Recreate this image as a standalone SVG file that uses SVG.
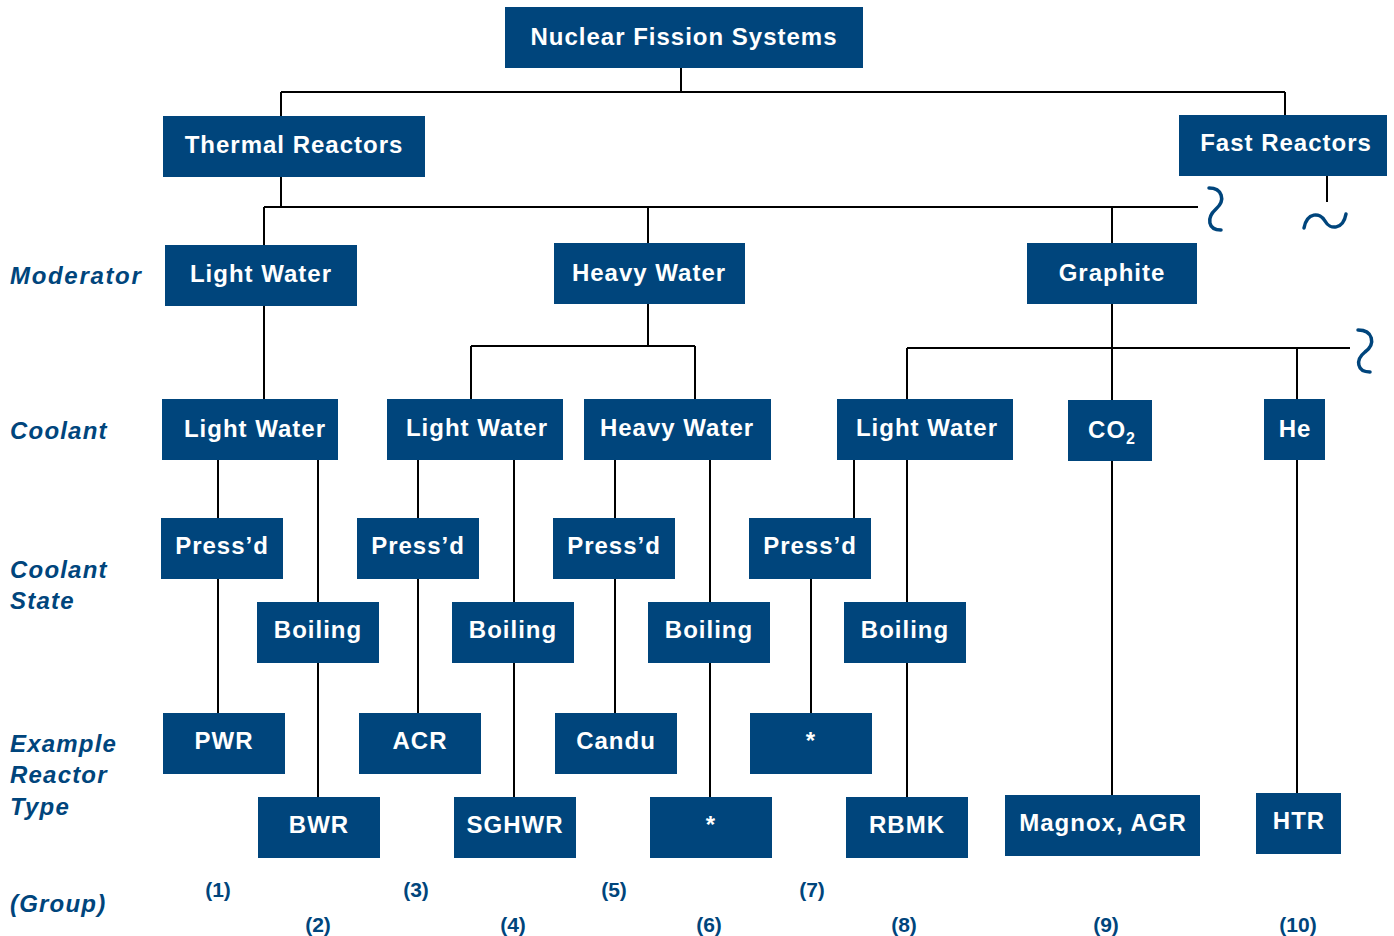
<svg xmlns="http://www.w3.org/2000/svg" width="1394" height="936" viewBox="0 0 1394 936">
<style>
.b{fill:#00457c}
.t{font-family:"Liberation Sans",Arial,sans-serif;font-weight:bold;font-size:24px;fill:#fff;text-anchor:middle;letter-spacing:1px}
.l{font-family:"Liberation Sans",Arial,sans-serif;font-weight:bold;font-style:italic;font-size:24px;fill:#00457c;letter-spacing:1.2px}
.g{font-family:"Liberation Sans",Arial,sans-serif;font-weight:bold;font-size:21px;fill:#00457c;text-anchor:middle}
.c{stroke:#000;stroke-width:2;fill:none}
.w{stroke:#00457c;stroke-width:3.5;fill:none;stroke-linecap:round}
</style>
<rect width="1394" height="936" fill="#fff"/>
<g id="connectors">
<path class="c" d="M681,68V92M281,92H1285M281,92V116M1285,92V115"/>
<path class="c" d="M281,177V207M264,207H1198M264,207V245M648,207V243M1112,207V243"/>
<path class="c" d="M1327,176V202"/>
<path class="c" d="M264,306V399"/>
<path class="c" d="M648,304V346M471,346H695M471,346V399M695,346V399"/>
<path class="c" d="M1112,304V400M907,348H1350M907,348V399M1297,348V399"/>
<path class="c" d="M218,460V518M318,460V602M218,579V713M318,663V797"/>
<path class="c" d="M418,460V518M514,460V602M418,579V713M514,663V797"/>
<path class="c" d="M615,460V518M710,460V602M615,579V713M710,663V797"/>
<path class="c" d="M854,460V518M907,460V602M811,579V713M907,663V797"/>
<path class="c" d="M1112,461V795M1297,460V793"/>
<path class="w" d="M1209,188C1222,188 1226,200 1216,209C1206,218 1208,230 1221,230"/>
<path class="w" d="M1304,228C1307,212 1320,212 1325,221C1330,230 1343,230 1346,214"/>
<path class="w" d="M1358,330C1373,330 1376,344 1365,352C1355,360 1357,372 1370,372"/>
</g>
<g id="n-root"><rect class="b" x="505" y="7" width="358" height="61"/><text class="t" x="684" y="45">Nuclear  Fission Systems</text></g>
<g id="n-thermal"><rect class="b" x="163" y="116" width="262" height="61"/><text class="t" x="294" y="153">Thermal Reactors</text></g>
<g id="n-fast"><rect class="b" x="1179" y="115" width="208" height="61"/><text class="t" x="1286" y="151">Fast Reactors</text></g>
<g id="n-mod-lw"><rect class="b" x="165" y="245" width="192" height="61"/><text class="t" x="261" y="282">Light Water</text></g>
<g id="n-mod-hw"><rect class="b" x="554" y="243" width="191" height="61"/><text class="t" x="649" y="281">Heavy Water</text></g>
<g id="n-mod-gr"><rect class="b" x="1027" y="243" width="170" height="61"/><text class="t" x="1112" y="281">Graphite</text></g>
<g id="n-cool-lw1"><rect class="b" x="162" y="399" width="176" height="61"/><text class="t" x="255" y="437">Light Water</text></g>
<g id="n-cool-lw2"><rect class="b" x="387" y="399" width="176" height="61"/><text class="t" x="477" y="436">Light Water</text></g>
<g id="n-cool-hw"><rect class="b" x="584" y="399" width="187" height="61"/><text class="t" x="677" y="436">Heavy Water</text></g>
<g id="n-cool-lw3"><rect class="b" x="837" y="399" width="176" height="61"/><text class="t" x="927" y="436">Light Water</text></g>
<g id="n-cool-co2"><rect class="b" x="1068" y="400" width="84" height="61"/><text class="t" x="1112" y="438">CO<tspan font-size="16" dy="6">2</tspan></text></g>
<g id="n-cool-he"><rect class="b" x="1264" y="399" width="61" height="61"/><text class="t" x="1295" y="437">He</text></g>
<g id="n-p1"><rect class="b" x="161" y="518" width="122" height="61"/><text class="t" x="222" y="554">Press’d</text></g>
<g id="n-p3"><rect class="b" x="357" y="518" width="122" height="61"/><text class="t" x="418" y="554">Press’d</text></g>
<g id="n-p5"><rect class="b" x="553" y="518" width="122" height="61"/><text class="t" x="614" y="554">Press’d</text></g>
<g id="n-p7"><rect class="b" x="749" y="518" width="122" height="61"/><text class="t" x="810" y="554">Press’d</text></g>
<g id="n-b2"><rect class="b" x="257" y="602" width="122" height="61"/><text class="t" x="318" y="638">Boiling</text></g>
<g id="n-b4"><rect class="b" x="452" y="602" width="122" height="61"/><text class="t" x="513" y="638">Boiling</text></g>
<g id="n-b6"><rect class="b" x="648" y="602" width="122" height="61"/><text class="t" x="709" y="638">Boiling</text></g>
<g id="n-b8"><rect class="b" x="844" y="602" width="122" height="61"/><text class="t" x="905" y="638">Boiling</text></g>
<g id="n-pwr"><rect class="b" x="163" y="713" width="122" height="61"/><text class="t" x="224" y="749">PWR</text></g>
<g id="n-acr"><rect class="b" x="359" y="713" width="122" height="61"/><text class="t" x="420" y="749">ACR</text></g>
<g id="n-candu"><rect class="b" x="555" y="713" width="122" height="61"/><text class="t" x="616" y="749">Candu</text></g>
<g id="n-star7"><rect class="b" x="750" y="713" width="122" height="61"/><text class="t" x="811" y="749">*</text></g>
<g id="n-bwr"><rect class="b" x="258" y="797" width="122" height="61"/><text class="t" x="319" y="833">BWR</text></g>
<g id="n-sghwr"><rect class="b" x="454" y="797" width="122" height="61"/><text class="t" x="515" y="833">SGHWR</text></g>
<g id="n-star6"><rect class="b" x="650" y="797" width="122" height="61"/><text class="t" x="711" y="833">*</text></g>
<g id="n-rbmk"><rect class="b" x="846" y="797" width="122" height="61"/><text class="t" x="907" y="833">RBMK</text></g>
<g id="n-magnox"><rect class="b" x="1005" y="795" width="195" height="61"/><text class="t" x="1103" y="831">Magnox, AGR</text></g>
<g id="n-htr"><rect class="b" x="1256" y="793" width="85" height="61"/><text class="t" x="1299" y="829">HTR</text></g>
<g id="labels">
<text class="l" x="10" y="284" textLength="132">Moderator</text>
<text class="l" x="10" y="439">Coolant</text>
<text class="l" x="10" y="578">Coolant</text>
<text class="l" x="10" y="609">State</text>
<text class="l" x="10" y="752">Example</text>
<text class="l" x="10" y="783">Reactor</text>
<text class="l" x="10" y="815">Type</text>
<text class="l" x="10" y="912">(Group)</text>
<text class="g" x="218" y="897">(1)</text>
<text class="g" x="416" y="897">(3)</text>
<text class="g" x="614" y="897">(5)</text>
<text class="g" x="812" y="897">(7)</text>
<text class="g" x="318" y="932">(2)</text>
<text class="g" x="513" y="932">(4)</text>
<text class="g" x="709" y="932">(6)</text>
<text class="g" x="904" y="932">(8)</text>
<text class="g" x="1106" y="932">(9)</text>
<text class="g" x="1298" y="932">(10)</text>
</g>
</svg>
